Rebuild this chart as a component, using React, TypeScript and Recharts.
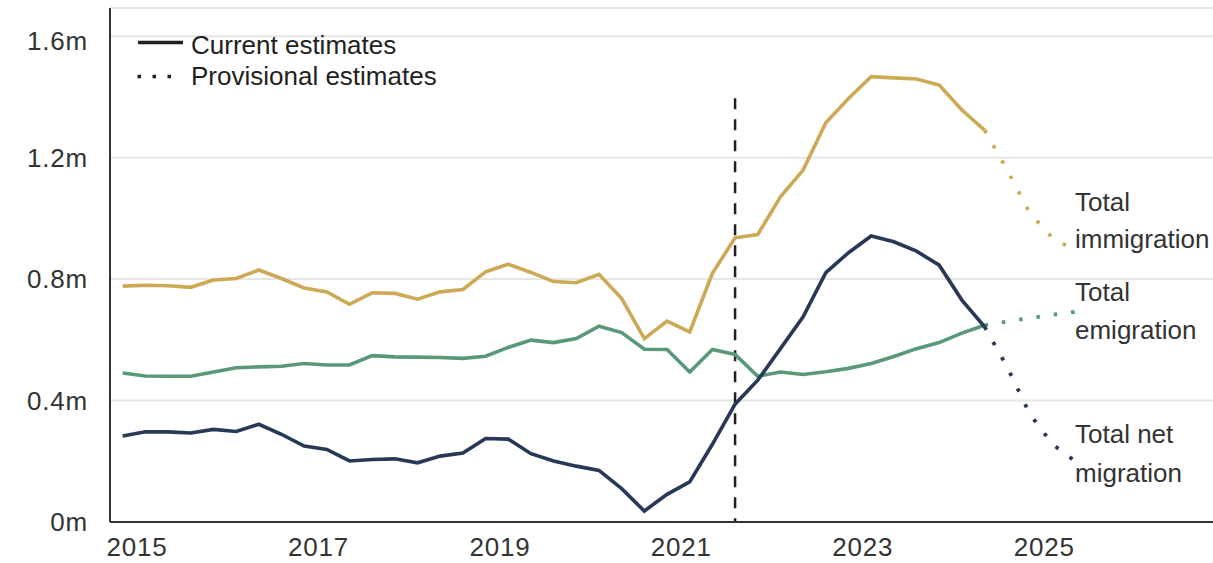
import React from "react";
import {
  CartesianGrid,
  Line,
  LineChart,
  ReferenceLine,
  XAxis,
  YAxis,
} from "recharts";

// quarterly, year ending Sep 2014 onwards (millions of people)
const START_YEAR = 2014.75;
const STEP = 0.25;

const IMMIGRATION = [
  0.777, 0.78, 0.778, 0.773, 0.797, 0.802, 0.83, 0.802, 0.771, 0.758, 0.717,
  0.755, 0.753, 0.734, 0.758, 0.766, 0.824, 0.849, 0.822, 0.792, 0.788, 0.816,
  0.736, 0.604, 0.662, 0.626, 0.819, 0.936, 0.947, 1.071, 1.159, 1.315, 1.395,
  1.467, 1.463, 1.459, 1.439, 1.357, 1.291,
];
const EMIGRATION = [
  0.491, 0.481, 0.48, 0.48, 0.494, 0.508, 0.511, 0.513, 0.522, 0.517, 0.517,
  0.548, 0.544, 0.543, 0.542, 0.539, 0.546, 0.575, 0.599, 0.591, 0.604, 0.645,
  0.624, 0.569, 0.568, 0.494, 0.568, 0.552, 0.48, 0.494, 0.486, 0.495, 0.506,
  0.522, 0.545, 0.571, 0.591, 0.622, 0.648,
];
const NET = [
  0.283, 0.297, 0.297, 0.293, 0.305, 0.298, 0.322, 0.289, 0.25, 0.239, 0.201,
  0.206, 0.208, 0.195, 0.217, 0.227, 0.275, 0.273, 0.225, 0.201, 0.184, 0.17,
  0.11, 0.036, 0.091, 0.132, 0.256, 0.388, 0.467, 0.571, 0.676, 0.821, 0.887,
  0.942, 0.923, 0.892, 0.846, 0.731, 0.643,
];

// provisional quarters after the last current estimate
const IMMIGRATION_PROV = [1.159, 1.017, 0.935, 0.895];
const EMIGRATION_PROV = [0.66, 0.672, 0.683, 0.692];
const NET_PROV = [0.51, 0.355, 0.256, 0.2];

const YEAR_TICKS = [2015, 2017, 2019, 2021, 2023, 2025];
const Y_TICKS = [0, 0.4, 0.8, 1.2, 1.6];
const BREAK_YEAR = 2021.5;

const GOLD = "#CCAA55";
const GREEN = "#5A987A";
const NAVY = "#283856";
const INK = "#231f20";
const FONT = "'Liberation Sans', Arial, sans-serif";

const last = IMMIGRATION.length - 1;
const rows = Array.from({ length: IMMIGRATION.length + IMMIGRATION_PROV.length }, (_, i) => {
  const p = i - last;
  return {
    t: START_YEAR + i * STEP,
    imm: i <= last ? IMMIGRATION[i] : null,
    emi: i <= last ? EMIGRATION[i] : null,
    net: i <= last ? NET[i] : null,
    immP: p === 0 ? IMMIGRATION[last] : p > 0 ? IMMIGRATION_PROV[p - 1] : null,
    emiP: p === 0 ? EMIGRATION[last] : p > 0 ? EMIGRATION_PROV[p - 1] : null,
    netP: p === 0 ? NET[last] : p > 0 ? NET_PROV[p - 1] : null,
  };
});

const dotted = "3.5 14";

function YTick({ x, y, payload }: any) {
  const v = payload.value;
  const label = v === 0 ? "0m" : `${v.toFixed(1)}m`;
  // top label sits a little under its gridline in the original
  const shift = v === 1.6 ? 5 : 0;
  return (
    <text x={x - 14} y={y + shift} dy="0.355em" textAnchor="end" fill="#333" fontSize={26} fontFamily={FONT} letterSpacing={0.8}>
      {label}
    </text>
  );
}

function XTick({ x, y, payload }: any) {
  return (
    <text x={x} y={y + 26} textAnchor="middle" fill="#333" fontSize={26} fontFamily={FONT} letterSpacing={0.8}>
      {String(Math.round(payload.value))}
    </text>
  );
}

export default function App() {
  return (
    <div style={{ position: "absolute", left: 0, top: 0, width: 1213, height: 563, background: "#fff", overflow: "hidden" }}>
      <LineChart width={1213} height={563} data={rows} margin={{ top: 8, right: 0, bottom: 0, left: 0 }}>
        <CartesianGrid vertical={false} stroke="#e6e6e6" strokeWidth={2} />
        <XAxis
          dataKey="t"
          type="number"
          domain={[2014.61, 2026.768]}
          ticks={YEAR_TICKS.map((y) => y - 0.092)}
          height={41}
          axisLine={{ stroke: "#333", strokeWidth: 2 }}
          tickLine={false}
          tick={<XTick />}
          interval={0}
        />
        <YAxis
          type="number"
          domain={[0, 1.693]}
          ticks={Y_TICKS}
          width={110}
          axisLine={{ stroke: "#333", strokeWidth: 2 }}
          tickLine={false}
          tick={<YTick />}
          interval={0}
        />
        <ReferenceLine
          segment={[
            { x: BREAK_YEAR, y: 1.3956 },
            { x: BREAK_YEAR, y: 0 },
          ]}
          stroke={INK}
          strokeWidth={2.5}
          strokeDasharray="11 10"
        />
        <Line dataKey="imm" stroke={GOLD} strokeWidth={3.6} dot={false} isAnimationActive={false} />
        <Line dataKey="immP" stroke={GOLD} strokeWidth={3.8} strokeDasharray={dotted} dot={false} isAnimationActive={false} />
        <Line dataKey="emi" stroke={GREEN} strokeWidth={3.6} dot={false} isAnimationActive={false} />
        <Line dataKey="emiP" stroke={GREEN} strokeWidth={3.8} strokeDasharray={dotted} dot={false} isAnimationActive={false} />
        <Line dataKey="net" stroke={NAVY} strokeWidth={3.6} dot={false} isAnimationActive={false} />
        <Line dataKey="netP" stroke={NAVY} strokeWidth={3.8} strokeDasharray={dotted} dot={false} isAnimationActive={false} />
      </LineChart>

      <svg width={1213} height={563} style={{ position: "absolute", left: 0, top: 0, pointerEvents: "none" }}>
        <g fontFamily={FONT} fontSize={26} fill={INK}>
          <line x1={138} y1={42.5} x2={183} y2={42.5} stroke={INK} strokeWidth={3.5} />
          <text x={191} y={54}>Current estimates</text>
          <line x1={137.5} y1={76.5} x2={175} y2={76.5} stroke={INK} strokeWidth={3.5} strokeDasharray="3.5 11.5" />
          <text x={191} y={85}>Provisional estimates</text>
        </g>
        <g fontFamily={FONT} fontSize={26} fill="#333">
          <text x={1075} y={210.5}>Total</text>
          <text x={1075} y={248}>immigration</text>
          <text x={1075} y={300.5}>Total</text>
          <text x={1075} y={339}>emigration</text>
          <text x={1075} y={443}>Total net</text>
          <text x={1075} y={481.5}>migration</text>
        </g>
      </svg>
    </div>
  );
}
